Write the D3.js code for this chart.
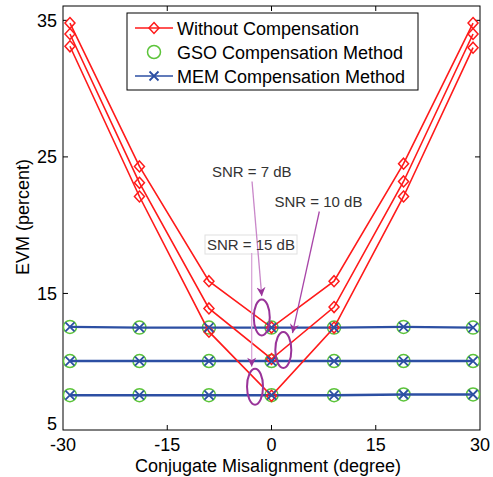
<!DOCTYPE html>
<html><head><meta charset="utf-8">
<script src="https://cdn.jsdelivr.net/npm/d3@7"></script>
<style>body{margin:0;background:#fff}svg{display:block;font-family:"Liberation Sans",Arial,sans-serif}</style>
</head><body><svg id="c" width="493" height="477"></svg>
<script>
const xVals = [-29, -19, -9, 0, 9, 19, 29];
const without7 = [34.8, 24.3, 15.9, 12.5, 15.9, 24.5, 34.8];
const without10 = [34.0, 23.1, 13.9, 10.2, 14.0, 23.2, 34.0];
const without15 = [33.1, 22.1, 12.2, 7.5, 12.5, 22.1, 33.0];
const gso7 = [12.55, 12.5, 12.5, 12.5, 12.5, 12.55, 12.5];
const gso10 = [10.05, 10.05, 10.05, 10.05, 10.05, 10.05, 10.05];
const gso15 = [7.55, 7.55, 7.55, 7.55, 7.55, 7.6, 7.6];
const mem7 = [12.55, 12.5, 12.5, 12.5, 12.5, 12.55, 12.5];
const mem10 = [10.05, 10.05, 10.05, 10.05, 10.05, 10.05, 10.05];
const mem15 = [7.55, 7.55, 7.55, 7.55, 7.55, 7.6, 7.6];
const xTicks = [-30, -15, 0, 15, 30];
const yTicks = [5, 15, 25, 35];
const legendLabels = ["Without Compensation", "GSO Compensation Method", "MEM Compensation Method"];
const annLabels = ["SNR = 7 dB", "SNR = 10 dB", "SNR = 15 dB"];

const svg = d3.select("#c");
const x = d3.scaleLinear().domain([-30, 30]).range([63, 480]);
const y = d3.scaleLinear().domain([5, 36.05]).range([430, 6]);
const RED = "#ff1a1a", GREEN = "#5cc43a", BLUE = "#2c4fa3", PURPLE = "#993399";

// plot frame
svg.append("rect").attr("x", x(-30)).attr("y", y(36.05)).attr("width", x(30) - x(-30)).attr("height", y(5) - y(36.05))
  .attr("fill", "#fff").attr("stroke", "#000").attr("stroke-width", 1);

// ticks (inside)
const tl = 5;
xTicks.slice(1, -1).forEach(t => {
  svg.append("line").attr("x1", x(t)).attr("x2", x(t)).attr("y1", y(5)).attr("y2", y(5) - tl).attr("stroke", "#000");
  svg.append("line").attr("x1", x(t)).attr("x2", x(t)).attr("y1", y(36.05)).attr("y2", y(36.05) + tl).attr("stroke", "#000");
});
yTicks.slice(1).forEach(t => {
  svg.append("line").attr("x1", x(-30)).attr("x2", x(-30) + tl).attr("y1", y(t)).attr("y2", y(t)).attr("stroke", "#000");
  svg.append("line").attr("x1", x(30)).attr("x2", x(30) - tl).attr("y1", y(t)).attr("y2", y(t)).attr("stroke", "#000");
});
// tick labels
xTicks.forEach(t => {
  svg.append("text").attr("x", x(t)).attr("y", 451).attr("text-anchor", "middle").attr("font-size", 18).text(t);
});
yTicks.forEach(t => {
  svg.append("text").attr("x", 57).attr("y", t === 5 ? y(t) : y(t) + 6.5).attr("text-anchor", "end").attr("font-size", 18).text(t);
});
// axis labels
svg.append("text").attr("x", 268).attr("y", 472).attr("text-anchor", "middle").attr("font-size", 18).text("Conjugate Misalignment (degree)");
svg.append("text").attr("transform", "translate(29,217) rotate(-90)").attr("text-anchor", "middle").attr("font-size", 18).text("EVM (percent)");

const line = d3.line().x(d => x(d[0])).y(d => y(d[1]));
const pts = arr => xVals.map((v, i) => [v, arr[i]]);
const g = svg.append("g");

function diamond(sel, cx, cy) {
  sel.append("path").attr("d", `M${cx},${cy - 5.5}L${cx + 5},${cy}L${cx},${cy + 5.5}L${cx - 5},${cy}Z`)
    .attr("fill", "none").attr("stroke", RED).attr("stroke-width", 1.5);
}
function circle(sel, cx, cy) {
  sel.append("circle").attr("cx", cx).attr("cy", cy).attr("r", 6.5).attr("fill", "none").attr("stroke", GREEN).attr("stroke-width", 1.5);
}
function cross(sel, cx, cy) {
  const s = 4.5;
  sel.append("path").attr("d", `M${cx - s},${cy - s}L${cx + s},${cy + s}M${cx - s},${cy + s}L${cx + s},${cy - s}`)
    .attr("stroke", BLUE).attr("stroke-width", 1.8);
}

// GSO circles
[gso7, gso10, gso15].forEach(arr => pts(arr).forEach(p => circle(g, x(p[0]), y(p[1]))));
// MEM lines
[mem7, mem10, mem15].forEach(arr => {
  g.append("path").attr("d", line(pts(arr))).attr("fill", "none").attr("stroke", BLUE).attr("stroke-width", 2.4);
});
// Without lines
[without7, without10, without15].forEach(arr => {
  g.append("path").attr("d", line(pts(arr))).attr("fill", "none").attr("stroke", RED).attr("stroke-width", 1.6);
  pts(arr).forEach(p => diamond(g, x(p[0]), y(p[1])));
});
[mem7, mem10, mem15].forEach(arr => pts(arr).forEach(p => cross(g, x(p[0]), y(p[1]))));

// annotations
const defs = svg.append("defs");
defs.append("marker").attr("id", "ah").attr("viewBox", "0 0 10 10").attr("refX", 10).attr("refY", 5)
  .attr("markerWidth", 12).attr("markerHeight", 9).attr("markerUnits", "userSpaceOnUse").attr("orient", "auto")
  .append("path").attr("d", "M0,0L10,5L0,10L3,5Z").attr("fill", PURPLE);

const annText = [[-2.85, 23.9], [6.76, 21.7], [-2.95, 18.55]];
const annLineFrom = [[-2.8, 23.2], [6.88, 21.0], [-2.85, 17.96]];
const annLineTo = [[-1.4, 14.8], [3.02, 12.1], [-2.85, 9.64]];
const annEllipse = [[-1.4, 13.24], [1.7, 10.86], [-2.37, 8.17]];
const annLineColors = ["#c987c9", "#a845a8", "#d9a6d9"];

// box for 15 dB
svg.append("rect").attr("x", 205).attr("y", 235).attr("width", 92).attr("height", 19).attr("fill", "#fff").attr("stroke", "#e0e0e0");
annLabels.forEach((t, i) => {
  svg.append("text").attr("x", x(annText[i][0])).attr("y", y(annText[i][1]) + 5.5).attr("text-anchor", "middle")
    .attr("font-size", 15).attr("fill", "#333").text(t);
  svg.append("line").attr("x1", x(annLineFrom[i][0])).attr("y1", y(annLineFrom[i][1]))
    .attr("x2", x(annLineTo[i][0])).attr("y2", y(annLineTo[i][1]))
    .attr("stroke", annLineColors[i]).attr("stroke-width", 1.3).attr("marker-end", "url(#ah)");
  svg.append("ellipse").attr("cx", x(annEllipse[i][0])).attr("cy", y(annEllipse[i][1])).attr("rx", 8).attr("ry", 18)
    .attr("fill", "none").attr("stroke", PURPLE).attr("stroke-width", 2);
});

// legend
const lg = svg.append("g");
lg.append("rect").attr("x", 127).attr("y", 13).attr("width", 291).attr("height", 77).attr("fill", "#fff").attr("stroke", "#000");
const rowsY = [28, 52, 76];
legendLabels.forEach((t, i) => {
  const yy = rowsY[i];
  if (i !== 1) lg.append("line").attr("x1", 135).attr("x2", 173).attr("y1", yy).attr("y2", yy)
    .attr("stroke", i === 0 ? RED : BLUE).attr("stroke-width", 1.6);
  if (i === 0) diamond(lg, 154, yy);
  if (i === 1) circle(lg, 154, yy);
  if (i === 2) cross(lg, 154, yy);
  lg.append("text").attr("x", 177).attr("y", yy + 6.5).attr("font-size", 18).text(t);
});
</script></body></html>
